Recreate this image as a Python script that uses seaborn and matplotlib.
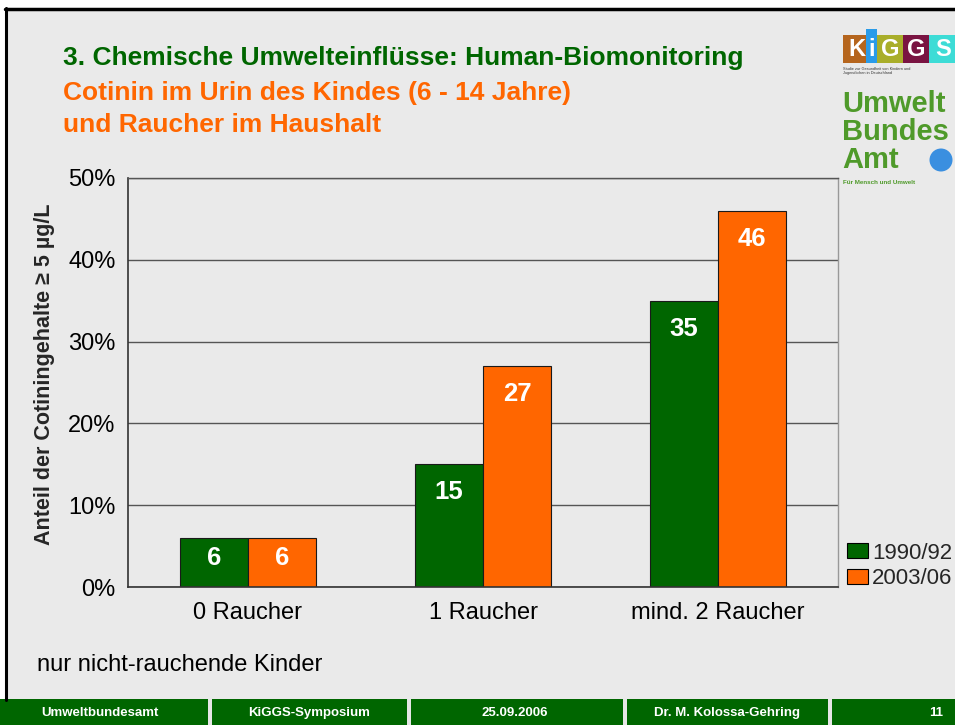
import matplotlib
matplotlib.use("Agg")
import matplotlib.pyplot as plt
import seaborn as sns
import pandas as pd
from matplotlib.patches import Rectangle, Patch, Circle
from matplotlib.lines import Line2D

# ---- data ----
categories = ["0 Raucher", "1 Raucher", "mind. 2 Raucher"]
periods = ["1990/92", "2003/06"]
values_1990 = [6, 15, 35]
values_2003 = [6, 27, 46]
y_ticks = [0, 10, 20, 30, 40, 50]
y_tick_labels = ["0%", "10%", "20%", "30%", "40%", "50%"]

title_1 = "3. Chemische Umwelteinflüsse: Human-Biomonitoring"
title_2 = "Cotinin im Urin des Kindes (6 - 14 Jahre)"
title_3 = "und Raucher im Haushalt"
y_label = "Anteil der Cotiningehalte ≥ 5 µg/L"
footnote = "nur nicht-rauchende Kinder"
footer_texts = ["Umweltbundesamt", "KiGGS-Symposium", "25.09.2006", "Dr. M. Kolossa-Gehring", "11"]

GREEN = "#006600"
ORANGE = "#FF6600"
BG = "#EAEAEA"

df = pd.DataFrame({
    "Kategorie": categories * 2,
    "Zeitraum": [periods[0]] * 3 + [periods[1]] * 3,
    "Wert": values_1990 + values_2003,
})

sns.set_theme(style="white")
plt.rcParams["font.family"] = ["Liberation Sans", "DejaVu Sans"]

W, H = 955, 725
fig = plt.figure(figsize=(W / 100, H / 100), dpi=100, facecolor="white")

def fx(px):
    return px / W

def fy(py):
    return 1 - py / H

# background panel
fig.patches.append(Rectangle((fx(6), 0), 1, fy(8), transform=fig.transFigure,
                             facecolor=BG, edgecolor="none", zorder=-10))
# black frame lines
fig.lines.append(Line2D([fx(6), fx(6)], [fy(8), fy(700)], transform=fig.transFigure,
                        color="black", lw=2.2))
fig.lines.append(Line2D([fx(5), 1], [fy(8.5), fy(8.5)], transform=fig.transFigure,
                        color="black", lw=2.5))

# footer band
fig.patches.append(Rectangle((0, 0), 1, fy(699), transform=fig.transFigure,
                             facecolor=GREEN, edgecolor="none", zorder=1))
for sx in [208, 407, 623, 828]:
    fig.patches.append(Rectangle((fx(sx), 0), fx(4), fy(699), transform=fig.transFigure,
                                 facecolor="#E6E6E6", edgecolor="none", zorder=2))
footer_centers = [100, 309, 515, 727, 936]
for t, cx in zip(footer_texts, footer_centers):
    fig.text(fx(cx), fy(713), t, color="white", fontsize=9.5, fontweight="bold",
             ha="center", va="center", zorder=3)

# titles
fig.text(fx(63), fy(58), title_1, color=GREEN, fontsize=19, fontweight="bold", va="center")
fig.text(fx(63), fy(93), title_2, color=ORANGE, fontsize=19, fontweight="bold", va="center")
fig.text(fx(63), fy(125), title_3, color=ORANGE, fontsize=19, fontweight="bold", va="center")

# logos (approximate)
kiggs = [("K", "#B5651D", 843, 870), ("i", "#2A9BE8", 866, 877), ("G", "#A9AE2A", 877, 903),
         ("G", "#7A1442", 903, 929), ("S", "#3DDCD6", 929, 958)]
for letter, col, x0, x1 in kiggs:
    top = 29 if letter == "i" else 35
    fig.patches.append(Rectangle((fx(x0), fy(63)), fx(x1 - x0), fy(top) - fy(63),
                                 transform=fig.transFigure, facecolor=col, edgecolor="none"))
    fig.text(fx((x0 + x1) / 2), fy(49), letter, color="white", fontsize=17,
             fontweight="bold", ha="center", va="center")
fig.text(fx(843), fy(71), "Studie zur Gesundheit von Kindern und\nJugendlichen in Deutschland",
         fontsize=2.8, color="#333333", va="center", linespacing=0.9)
for i, word in enumerate(["Umwelt", "Bundes", "Amt"]):
    fig.text(fx(842), fy(104 + i * 28), word, color="#4F9A2A", fontsize=21,
             fontweight="bold", va="center")
fig.patches.append(Circle((941 / 100, (H - 160) / 100), 0.115, transform=fig.dpi_scale_trans,
                          facecolor="#3A8FE0", edgecolor="none"))
fig.text(fx(843), fy(183), "Für Mensch und Umwelt", color="#4F9A2A", fontsize=4.5,
         fontweight="bold", va="center")

# axes
ax = fig.add_axes([fx(128), fy(587), fx(838) - fx(128), fy(178) - fy(587)])
ax.set_facecolor("none")
sns.barplot(data=df, x="Kategorie", y="Wert", hue="Zeitraum", order=categories,
            hue_order=periods, palette=[GREEN, ORANGE], width=0.58, saturation=1,
            edgecolor="#1a1a1a", linewidth=0.8, ax=ax, legend=False)

ax.set_xlim(-0.51, 2.51)
ax.set_ylim(0, 50)
ax.set_yticks(y_ticks)
ax.set_yticklabels(y_tick_labels, fontsize=17, color="black")
ax.set_xticks(range(len(categories)))
ax.set_xticklabels(categories, fontsize=17, color="black")
ax.set_xticks([0.5, 1.5], minor=True)
ax.tick_params(axis="x", which="major", length=0, pad=11)
ax.tick_params(axis="x", which="minor", length=5, width=1, color="#333333", direction="out")
ax.tick_params(axis="y", length=6, width=1, color="#333333", direction="out", pad=3)
ax.set_xlabel("")
ax.set_ylabel(y_label, fontsize=15.5, fontweight="bold")
ax.yaxis.set_label_coords(-(128 - 55) / 710, 0.52)
ax.yaxis.grid(True, color="#555555", lw=1)
ax.xaxis.grid(False)
ax.set_axisbelow(True)
for side in ["left", "bottom"]:
    ax.spines[side].set_color("#333333")
    ax.spines[side].set_linewidth(1.2)
ax.spines["top"].set_color("#555555")
ax.spines["top"].set_linewidth(1)
ax.spines["right"].set_color("#999999")
ax.spines["right"].set_linewidth(1)

# bar labels
for cont in ax.containers:
    for bar, v in zip(cont, cont.datavalues):
        top = bar.get_height()
        off = 28 if v > 8 else 20
        ax.annotate(f"{v:g}", (bar.get_x() + bar.get_width() / 2, top),
                    xytext=(0, -off), textcoords="offset pixels",
                    ha="center", va="center", color="white", fontsize=18.5,
                    fontweight="bold")

# legend
handles = [Patch(facecolor=GREEN, edgecolor="black", lw=0.8),
           Patch(facecolor=ORANGE, edgecolor="black", lw=0.8)]
fig.legend(handles, periods, loc="upper left", bbox_to_anchor=(fx(840), fy(536)),
           frameon=False, fontsize=16, handlelength=0.95, handleheight=0.65,
           handletextpad=0.2, labelspacing=0.2, borderaxespad=0, borderpad=0.3)

fig.text(fx(37), fy(665), footnote, fontsize=17, va="center", color="black")

fig.savefig("out.png", dpi=100, facecolor="white")
